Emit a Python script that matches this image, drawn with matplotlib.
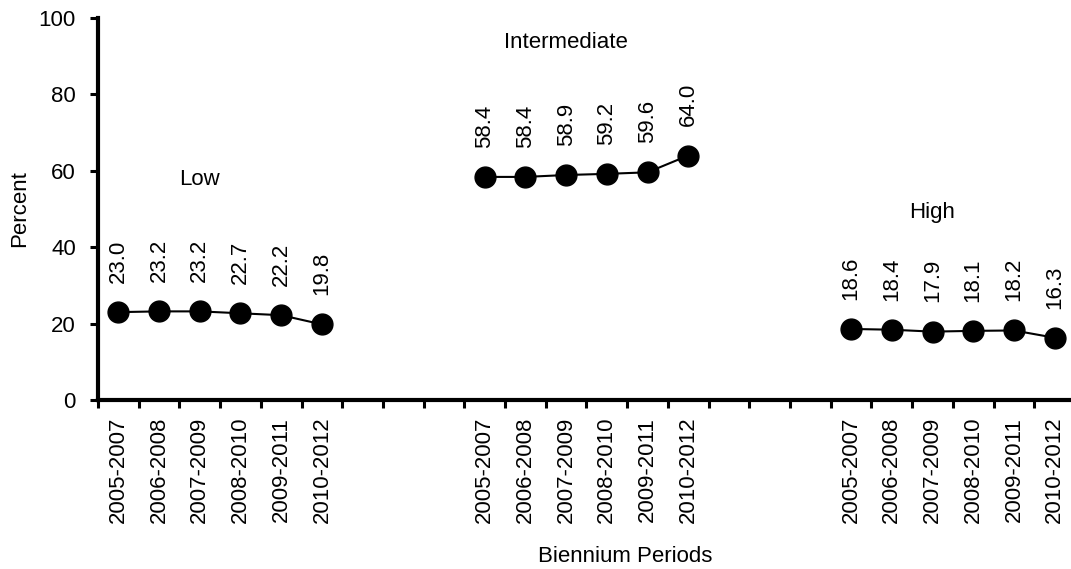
import matplotlib
matplotlib.use("Agg")
import numpy as np
import matplotlib.pyplot as plt

plt.rcParams['font.family'] = ['Liberation Sans', 'DejaVu Sans']

periods = ['2005-2007', '2006-2008', '2007-2009', '2008-2010', '2009-2011', '2010-2012']
groups = ['Low', 'Intermediate', 'High']
low = [23.0, 23.2, 23.2, 22.7, 22.2, 19.8]
intermediate = [58.4, 58.4, 58.9, 59.2, 59.6, 64.0]
high = [18.6, 18.4, 17.9, 18.1, 18.2, 16.3]
series = [low, intermediate, high]

gap = 3  # empty category slots between groups
n = len(periods)
fs = 16

fig = plt.figure(figsize=(10.71, 5.69), dpi=100)
ax = fig.add_axes([98 / 1071, 169 / 569, 977 / 1071, 382 / 569])

tick_pos = []
tick_lab = []
group_label_pos = {'Low': (2, 57.6), 'Intermediate': (11, 93.7), 'High': (20, 49)}

for gi, (name, vals) in enumerate(zip(groups, series)):
    start = gi * (n + gap)
    x = np.arange(start, start + n)
    ax.plot(x, vals, color='black', lw=1.5, marker='o', ms=15,
            markerfacecolor='black', markeredgecolor='black', zorder=3)
    for xi, v in zip(x, vals):
        ax.annotate('%.1f' % v, xy=(xi, v), xytext=(0, 21), textcoords='offset points',
                    rotation=90, ha='center', va='bottom', fontsize=fs)
    gx, gy = group_label_pos[name]
    ax.text(gx, gy, name, ha='center', va='center', fontsize=fs)
    tick_pos.extend(x)
    tick_lab.extend(periods)

total = len(groups) * n + (len(groups) - 1) * gap
ax.set_xlim(-0.5, total - 0.5)
ax.set_ylim(0, 100)

ax.set_xticks(tick_pos)
ax.set_xticklabels(tick_lab, rotation=90, fontsize=fs)
ax.set_xticks(np.arange(-0.5, total), minor=True)
ax.tick_params(axis='x', which='major', length=0, pad=12)
ax.tick_params(axis='x', which='minor', length=6, width=2.2, direction='out')

ax.set_yticks(np.arange(0, 101, 20))
ax.tick_params(axis='y', labelsize=fs, length=6, width=2.2, direction='out', pad=10)
ax.set_ylabel('Percent', fontsize=fs, labelpad=6)

for s in ['top', 'right']:
    ax.spines[s].set_visible(False)
for s in ['left', 'bottom']:
    ax.spines[s].set_linewidth(3)

fig.text(625 / 1071, 1 - 557 / 569, 'Biennium Periods', ha='center', va='center', fontsize=fs)

fig.savefig('out.png', dpi=100)
